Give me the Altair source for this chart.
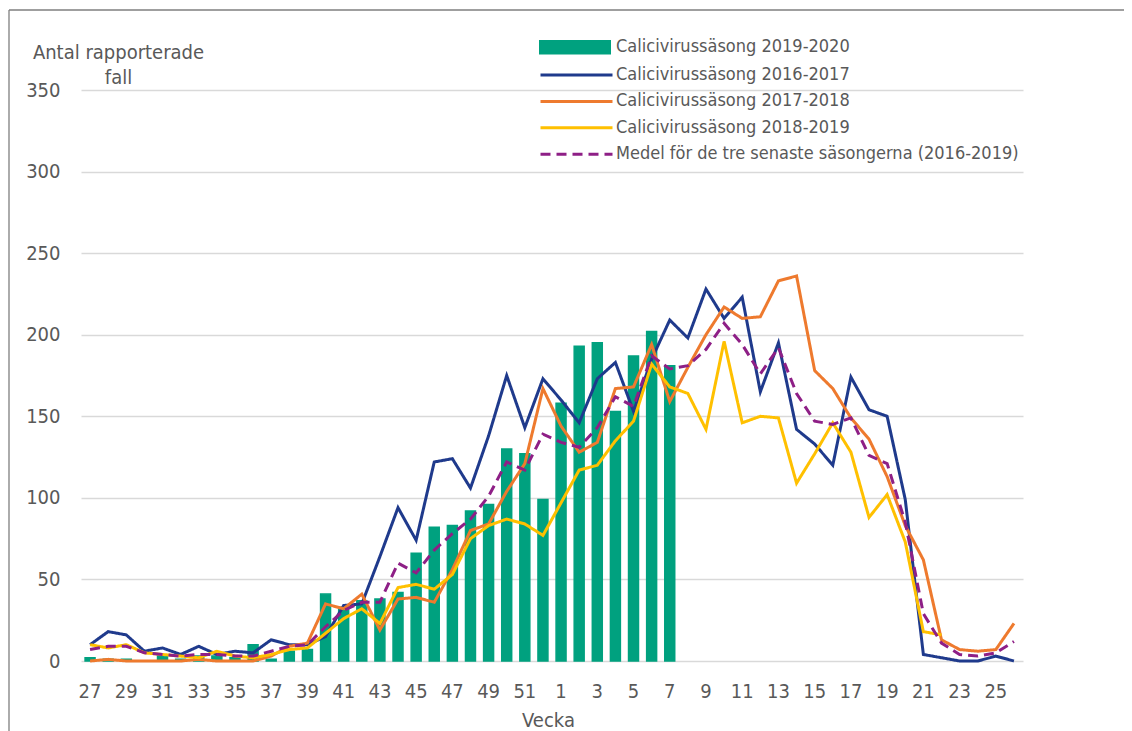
import altair as alt
import pandas as pd

FONT = "'DejaVu Sans Condensed', 'DejaVu Sans', sans-serif"
TXT = "#595959"

weeks = ["27", "28", "29", "30", "31", "32", "33", "34", "35", "36",
         "37", "38", "39", "40", "41", "42", "43", "44", "45", "46",
         "47", "48", "49", "50", "51", "52",
         "1", "2", "3", "4", "5", "6", "7", "8", "9", "10",
         "11", "12", "13", "14", "15", "16", "17", "18", "19", "20",
         "21", "22", "23", "24", "25", "26"]
x_tick_labels = ["27", "29", "31", "33", "35", "37", "39", "41", "43", "45",
                 "47", "49", "51", "1", "3", "5", "7", "9", "11", "13",
                 "15", "17", "19", "21", "23", "25"]
y_ticks = [0, 50, 100, 150, 200, 250, 300, 350]

bar_name = "Calicivirussäsong 2019-2020"
line_names = ["Calicivirussäsong 2016-2017", "Calicivirussäsong 2017-2018",
              "Calicivirussäsong 2018-2019",
              "Medel för de tre senaste säsongerna (2016-2019)"]

# season 2019-2020, weeks 27..7
bars_2019_2020 = [2, 1, 1, 0, 3, 1, 3, 3, 2, 10,
                  1, 6, 7, 41, 33, 37, 38, 42, 66, 82,
                  83, 92, 96, 130, 127, 99,
                  158, 193, 195, 153, 187, 202, 181]

s2016_2017 = [10, 18, 16, 6, 8, 4, 9, 4, 6, 5,
              13, 10, 10, 15, 34, 35, 64, 94, 74, 122,
              124, 106, 138, 175, 143, 173,
              160, 146, 173, 183, 153, 185, 209, 198, 228, 210,
              223, 165, 195, 142, 133, 120, 174, 154, 150, 99,
              4, 2, 0, 0, 3, 0]
s2017_2018 = [0, 1, 0, 0, 0, 0, 1, 0, 0, 0,
              3, 9, 11, 35, 32, 41, 19, 38, 39, 36,
              56, 80, 84, 104, 121, 167,
              144, 128, 134, 167, 168, 194, 159, 180, 200, 217,
              210, 211, 233, 236, 178, 167, 149, 136, 113, 83,
              62, 13, 7, 6, 7, 23]
s2018_2019 = [10, 8, 10, 5, 4, 3, 2, 6, 3, 2,
              4, 7, 8, 17, 26, 32, 23, 45, 47, 44,
              53, 75, 83, 87, 84, 77,
              97, 117, 120, 135, 147, 182, 168, 164, 142, 196,
              146, 150, 149, 109, 127, 146, 128, 88, 102, 73,
              18, 16, None, None, None, None]
mean_3 = [7, 9, 9, 5, 4, 3, 4, 4, 3, 3,
          6, 9, 10, 21, 31, 36, 36, 60, 54, 68,
          78, 87, 101, 122, 117, 139,
          134, 131, 143, 162, 156, 187, 179, 181, 191, 207,
          194, 176, 192, 164, 147, 145, 149, 126, 121, 85,
          29, 11, 4, 3, 5, 12]

bar_color = "#00A17F"
line_colors = ["#1F3A8C", "#EE7A2E", "#FFC000", "#8E1F86"]
line_dashes = [[1, 0], [1, 0], [1, 0], [10, 6]]

bar_df = pd.DataFrame({
    "week": weeks[:len(bars_2019_2020)],
    "idx": list(range(len(bars_2019_2020))),
    "value": bars_2019_2020,
    "series": bar_name,
})

rows = []
for name, vals in zip(line_names, [s2016_2017, s2017_2018, s2018_2019, mean_3]):
    for i, (w, v) in enumerate(zip(weeks, vals)):
        if v is not None:
            rows.append({"week": w, "idx": i, "value": v, "series": name})
line_df = pd.DataFrame(rows)

x_scale = alt.Scale(paddingInner=0.45, paddingOuter=0.225)
y_scale = alt.Scale(domain=[0, 350], nice=False, zero=True)

x_axis = alt.Axis(values=x_tick_labels, labelAngle=0, labelFontSize=20,
                  labelFont=FONT, labelColor=TXT, labelPadding=20,
                  ticks=False, tickSize=0, domain=False, grid=False,
                  title="Vecka", titleFontSize=20, titleFont=FONT,
                  titleColor=TXT, titleFontWeight="normal",
                  titleX=467, titleY=49, titleBaseline="top")
y_axis = alt.Axis(values=y_ticks, labelFontSize=20, labelFont=FONT,
                  labelColor=TXT, labelPadding=21, ticks=False, tickSize=0,
                  domain=False, grid=True, gridColor="#D9D9D9",
                  gridWidth=1.3,
                  title=["Antal rapporterade", "fall"], titleAngle=0,
                  titleAlign="center", titleBaseline="alphabetic",
                  titleX=37, titleY=-32, titleFontSize=20, titleFont=FONT,
                  titleColor=TXT, titleFontWeight="normal",
                  titleLineHeight=25)

fill_legend = alt.Legend(title=None, orient="none", legendX=458, legendY=-51.7,
                         symbolType="M-1,-0.8H7V0.8H-1Z", symbolSize=324,
                         symbolStrokeWidth=0, labelOffset=59, labelLimit=700,
                         padding=0, labelFontSize=18, labelFont=FONT,
                         labelColor=TXT)
stroke_legend = alt.Legend(title=None, orient="none", legendX=458, legendY=-25.5,
                           symbolType="M-1,0H7", symbolSize=324,
                           symbolStrokeWidth=3, labelOffset=56, labelLimit=700,
                           rowPadding=6.4, padding=0, labelFontSize=18,
                           labelFont=FONT, labelColor=TXT)

bars = alt.Chart(bar_df).mark_bar(stroke=bar_color, strokeWidth=1.5).encode(
    x=alt.X("week:N", sort=weeks, scale=x_scale, axis=x_axis),
    y=alt.Y("value:Q", scale=y_scale, axis=y_axis),
    fill=alt.Fill("series:N", scale=alt.Scale(domain=[bar_name], range=[bar_color]),
                  legend=fill_legend),
)

lines = alt.Chart(line_df).mark_line(strokeWidth=3).encode(
    x=alt.X("week:N", sort=weeks, scale=x_scale, axis=x_axis),
    y=alt.Y("value:Q", scale=y_scale, axis=y_axis),
    stroke=alt.Stroke("series:N", scale=alt.Scale(domain=line_names, range=line_colors),
                      legend=stroke_legend),
    strokeDash=alt.StrokeDash("series:N",
                              scale=alt.Scale(domain=line_names, range=line_dashes),
                              legend=stroke_legend),
    order=alt.Order("idx:Q"),
)

frame_left = alt.Chart(alt.Data(values=[{}])).mark_rule(
    color="#7F7F7F", strokeWidth=1.3).encode(
    x=alt.value(-72), y=alt.value(-80), y2=alt.value(700))
frame_top = alt.Chart(alt.Data(values=[{}])).mark_rule(
    color="#7F7F7F", strokeWidth=1.3).encode(
    x=alt.value(-72), x2=alt.value(1050), y=alt.value(-80))

chart = alt.layer(bars, lines, frame_left, frame_top).resolve_scale(
    x="shared", y="shared"
).properties(
    width=942, height=571,
    autosize=alt.AutoSizeParams(type="none"),
    padding={"left": 73, "top": 82, "right": 101, "bottom": 70},
    background="white",
).configure_view(stroke=None)

chart.save("out.html", embed_options={"renderer": "svg", "actions": False})
